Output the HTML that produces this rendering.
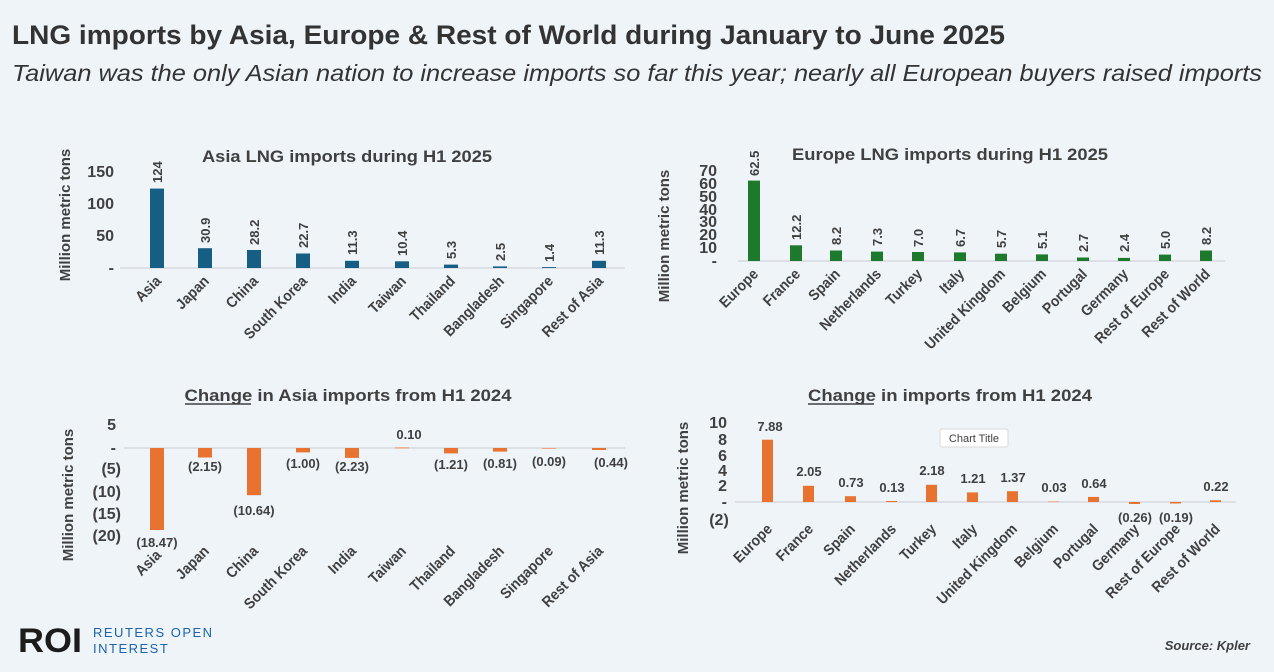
<!DOCTYPE html>
<html><head><meta charset="utf-8"><style>
html,body{margin:0;padding:0;background:#eff4f9;}
svg{display:block;font-family:"Liberation Sans",Arial,sans-serif;}
.t{fill:#404040;font-weight:bold;}
.cat{fill:#404040;font-weight:bold;font-size:15px;text-anchor:end;}
.val{fill:#404040;font-weight:bold;font-size:13px;}
.tk{fill:#404040;font-weight:bold;font-size:16px;text-anchor:end;}
</style></head><body>
<svg width="1274" height="672" viewBox="0 0 1274 672">
<rect width="1274" height="672" fill="#eff4f9"/>
<text x="12" y="44" font-size="27" font-weight="bold" fill="#333" textLength="993" lengthAdjust="spacingAndGlyphs">LNG imports by Asia, Europe &amp; Rest of World during January to June 2025</text>
<text x="12" y="81" font-size="23" font-style="italic" fill="#333" textLength="1250" lengthAdjust="spacingAndGlyphs">Taiwan was the only Asian nation to increase imports so far this year; nearly all European buyers raised imports</text>

<!-- Chart 1 -->
<text x="347" y="162" class="t" font-size="17" text-anchor="middle" textLength="290" lengthAdjust="spacingAndGlyphs">Asia LNG imports during H1 2025</text>
<text transform="translate(70,215) rotate(-90)" class="t" font-size="15" text-anchor="middle">Million metric tons</text>
<g class="tk"><text x="114" y="177">150</text><text x="114" y="209">100</text><text x="114" y="241">50</text><text x="114" y="273">-</text></g>
<line x1="120" y1="268" x2="625" y2="268" stroke="#c8cdd3"/>
<g fill="#175e84">
<rect x="150" y="188.6" width="14" height="79.4"/><rect x="198" y="248.2" width="14" height="19.8"/><rect x="247" y="250" width="14" height="18"/><rect x="296" y="253.5" width="14" height="14.5"/><rect x="345" y="260.8" width="14" height="7.2"/><rect x="395" y="261.3" width="14" height="6.7"/><rect x="444" y="264.6" width="14" height="3.4"/><rect x="493" y="266.4" width="14" height="1.6"/><rect x="542" y="267.1" width="14" height=".9"/><rect x="592" y="260.8" width="14" height="7.2"/>
</g>
<g class="val" font-size="15">
<text transform="translate(162,183) rotate(-90)">124</text><text transform="translate(210,243) rotate(-90)">30.9</text><text transform="translate(259,245) rotate(-90)">28.2</text><text transform="translate(308,248) rotate(-90)">22.7</text><text transform="translate(357,255) rotate(-90)">11.3</text><text transform="translate(407,256) rotate(-90)">10.4</text><text transform="translate(456,259) rotate(-90)">5.3</text><text transform="translate(505,261) rotate(-90)">2.5</text><text transform="translate(554,262) rotate(-90)">1.4</text><text transform="translate(604,255) rotate(-90)">11.3</text>
</g>
<g class="cat">
<text transform="translate(162,282) rotate(-45) scale(0.92,1)">Asia</text><text transform="translate(210,282) rotate(-45) scale(0.92,1)">Japan</text><text transform="translate(259,282) rotate(-45) scale(0.92,1)">China</text><text transform="translate(308,282) rotate(-45) scale(0.92,1)">South Korea</text><text transform="translate(357,282) rotate(-45) scale(0.92,1)">India</text><text transform="translate(407,282) rotate(-45) scale(0.92,1)">Taiwan</text><text transform="translate(456,282) rotate(-45) scale(0.92,1)">Thailand</text><text transform="translate(505,282) rotate(-45) scale(0.92,1)">Bangladesh</text><text transform="translate(554,282) rotate(-45) scale(0.92,1)">Singapore</text><text transform="translate(604,282) rotate(-45) scale(0.92,1)">Rest of Asia</text>
</g>

<!-- Chart 2 -->
<text x="950" y="160" class="t" font-size="17" text-anchor="middle" textLength="316" lengthAdjust="spacingAndGlyphs">Europe LNG imports during H1 2025</text>
<text transform="translate(669,236) rotate(-90)" class="t" font-size="15" text-anchor="middle">Million metric tons</text>
<g class="tk" font-size="15"><text x="717" y="176">70</text><text x="717" y="189">60</text><text x="717" y="202">50</text><text x="717" y="215">40</text><text x="717" y="227">30</text><text x="717" y="240">20</text><text x="717" y="253">10</text><text x="717" y="266">-</text></g>
<line x1="738" y1="261" x2="1225" y2="261" stroke="#c8cdd3"/>
<g fill="#1d7a2c">
<rect x="748" y="180.6" width="12" height="80.4"/><rect x="790" y="245.3" width="12" height="15.7"/><rect x="830" y="250.5" width="12" height="10.5"/><rect x="871" y="251.6" width="12" height="9.4"/><rect x="912" y="252" width="12" height="9"/><rect x="954" y="252.4" width="12" height="8.6"/><rect x="995" y="253.7" width="12" height="7.3"/><rect x="1036" y="254.4" width="12" height="6.6"/><rect x="1077" y="257.5" width="12" height="3.5"/><rect x="1118" y="257.9" width="12" height="3.1"/><rect x="1159" y="254.6" width="12" height="6.4"/><rect x="1200" y="250.5" width="12" height="10.5"/>
</g>
<g class="val" font-size="14">
<text transform="translate(759,176) rotate(-90)">62.5</text><text transform="translate(801,240) rotate(-90)">12.2</text><text transform="translate(841,245) rotate(-90)">8.2</text><text transform="translate(882,246) rotate(-90)">7.3</text><text transform="translate(923,247) rotate(-90)">7.0</text><text transform="translate(965,247) rotate(-90)">6.7</text><text transform="translate(1006,248) rotate(-90)">5.7</text><text transform="translate(1047,249) rotate(-90)">5.1</text><text transform="translate(1088,252) rotate(-90)">2.7</text><text transform="translate(1129,252) rotate(-90)">2.4</text><text transform="translate(1170,249) rotate(-90)">5.0</text><text transform="translate(1211,245) rotate(-90)">8.2</text>
</g>
<g class="cat">
<text transform="translate(759,275) rotate(-45) scale(0.92,1)">Europe</text><text transform="translate(801,275) rotate(-45) scale(0.92,1)">France</text><text transform="translate(841,275) rotate(-45) scale(0.92,1)">Spain</text><text transform="translate(882,275) rotate(-45) scale(0.92,1)">Netherlands</text><text transform="translate(923,275) rotate(-45) scale(0.92,1)">Turkey</text><text transform="translate(965,275) rotate(-45) scale(0.92,1)">Italy</text><text transform="translate(1006,275) rotate(-45) scale(0.92,1)">United Kingdom</text><text transform="translate(1047,275) rotate(-45) scale(0.92,1)">Belgium</text><text transform="translate(1088,275) rotate(-45) scale(0.92,1)">Portugal</text><text transform="translate(1129,275) rotate(-45) scale(0.92,1)">Germany</text><text transform="translate(1170,275) rotate(-45) scale(0.92,1)">Rest of Europe</text><text transform="translate(1211,275) rotate(-45) scale(0.92,1)">Rest of World</text>
</g>

<!-- Chart 3 -->
<text x="348" y="401" class="t" font-size="17" text-anchor="middle" textLength="327" lengthAdjust="spacingAndGlyphs">Change in Asia imports from H1 2024</text>
<line x1="185" y1="404" x2="251" y2="404" stroke="#404040" stroke-width="1.5"/>
<text transform="translate(73,495) rotate(-90)" class="t" font-size="15" text-anchor="middle">Million metric tons</text>
<g class="tk"><text x="116" y="430">5</text><text x="116" y="453">-</text><text x="121" y="474">(5)</text><text x="121" y="497">(10)</text><text x="121" y="519">(15)</text><text x="121" y="541">(20)</text></g>
<line x1="124" y1="448" x2="625" y2="448" stroke="#c8cdd3"/>
<g fill="#e8722f">
<rect x="150" y="448" width="14" height="82"/><rect x="198" y="448" width="14" height="9.5"/><rect x="247" y="448" width="14" height="47.2"/><rect x="296" y="448" width="14" height="4.4"/><rect x="345" y="448" width="14" height="9.9"/><rect x="395" y="447.5" width="14" height=".8"/><rect x="444" y="448" width="14" height="5.4"/><rect x="493" y="448" width="14" height="3.6"/><rect x="542" y="448" width="14" height=".6"/><rect x="592" y="448" width="14" height="2"/>
</g>
<g class="val" text-anchor="middle" font-size="13">
<text x="157" y="547">(18.47)</text><text x="205" y="471">(2.15)</text><text x="254" y="515">(10.64)</text><text x="303" y="468">(1.00)</text><text x="352" y="471">(2.23)</text><text x="409" y="439">0.10</text><text x="451" y="469">(1.21)</text><text x="500" y="468">(0.81)</text><text x="549" y="466">(0.09)</text><text x="611" y="467">(0.44)</text>
</g>
<g class="cat">
<text transform="translate(162,556) rotate(-45) scale(0.92,1)">Asia</text><text transform="translate(210,552) rotate(-45) scale(0.92,1)">Japan</text><text transform="translate(259,552) rotate(-45) scale(0.92,1)">China</text><text transform="translate(308,552) rotate(-45) scale(0.92,1)">South Korea</text><text transform="translate(357,552) rotate(-45) scale(0.92,1)">India</text><text transform="translate(407,552) rotate(-45) scale(0.92,1)">Taiwan</text><text transform="translate(456,552) rotate(-45) scale(0.92,1)">Thailand</text><text transform="translate(505,552) rotate(-45) scale(0.92,1)">Bangladesh</text><text transform="translate(554,552) rotate(-45) scale(0.92,1)">Singapore</text><text transform="translate(604,552) rotate(-45) scale(0.92,1)">Rest of Asia</text>
</g>

<!-- Chart 4 -->
<text x="950" y="401" class="t" font-size="17" text-anchor="middle" textLength="284" lengthAdjust="spacingAndGlyphs">Change in imports from H1 2024</text>
<line x1="808" y1="404" x2="874" y2="404" stroke="#404040" stroke-width="1.5"/>
<text transform="translate(688,488) rotate(-90)" class="t" font-size="15" text-anchor="middle">Million metric tons</text>
<g class="tk" font-size="17"><text x="727" y="428">10</text><text x="727" y="445">8</text><text x="727" y="461">6</text><text x="727" y="476">4</text><text x="727" y="491">2</text><text x="727" y="507">-</text><text x="719" y="525" text-anchor="middle">(2)</text></g>
<line x1="735" y1="502" x2="1236" y2="502" stroke="#c8cdd3"/>
<g fill="#e8722f">
<rect x="762" y="439.7" width="11" height="62.3"/><rect x="803" y="485.8" width="11" height="16.2"/><rect x="845" y="496.2" width="11" height="5.8"/><rect x="886" y="501" width="11" height="1"/><rect x="926" y="484.8" width="11" height="17.2"/><rect x="967" y="492.4" width="11" height="9.6"/><rect x="1007" y="491.2" width="11" height="10.8"/><rect x="1048" y="501.6" width="11" height=".5"/><rect x="1088" y="496.9" width="11" height="5.1"/><rect x="1129" y="502" width="11" height="2"/><rect x="1170" y="502" width="11" height="1.5"/><rect x="1210" y="500.3" width="11" height="1.7"/>
</g>
<g class="val" text-anchor="middle" font-size="13">
<text x="770" y="431">7.88</text><text x="809" y="476">2.05</text><text x="851" y="487">0.73</text><text x="892" y="492">0.13</text><text x="932" y="475">2.18</text><text x="973" y="483">1.21</text><text x="1013" y="482">1.37</text><text x="1054" y="492">0.03</text><text x="1094" y="488">0.64</text><text x="1135" y="522">(0.26)</text><text x="1176" y="522">(0.19)</text><text x="1216" y="491">0.22</text>
</g>
<g class="cat">
<text transform="translate(773,530) rotate(-45) scale(0.92,1)">Europe</text><text transform="translate(814,530) rotate(-45) scale(0.92,1)">France</text><text transform="translate(856,530) rotate(-45) scale(0.92,1)">Spain</text><text transform="translate(897,530) rotate(-45) scale(0.92,1)">Netherlands</text><text transform="translate(937,530) rotate(-45) scale(0.92,1)">Turkey</text><text transform="translate(978,530) rotate(-45) scale(0.92,1)">Italy</text><text transform="translate(1018,530) rotate(-45) scale(0.92,1)">United Kingdom</text><text transform="translate(1059,530) rotate(-45) scale(0.92,1)">Belgium</text><text transform="translate(1099,530) rotate(-45) scale(0.92,1)">Portugal</text><text transform="translate(1140,530) rotate(-45) scale(0.92,1)">Germany</text><text transform="translate(1181,530) rotate(-45) scale(0.92,1)">Rest of Europe</text><text transform="translate(1221,530) rotate(-45) scale(0.92,1)">Rest of World</text>
</g>
<rect x="940" y="429" width="68" height="18" rx="2" fill="#fff" stroke="#d8d8d8"/>
<text x="974" y="442" font-size="11" fill="#404040" text-anchor="middle">Chart Title</text>

<!-- Footer -->
<text x="18" y="652" font-size="34" font-weight="bold" fill="#1c1c1c" textLength="64" lengthAdjust="spacingAndGlyphs">ROI</text>
<text x="93" y="637" font-size="13" fill="#1a64ad" letter-spacing="1.5">REUTERS OPEN</text>
<text x="93" y="653" font-size="13" fill="#1a64ad" letter-spacing="1.5">INTEREST</text>
<text x="1250" y="650" font-size="13" font-weight="bold" font-style="italic" fill="#404040" text-anchor="end">Source: Kpler</text>
</svg>
</body></html>
